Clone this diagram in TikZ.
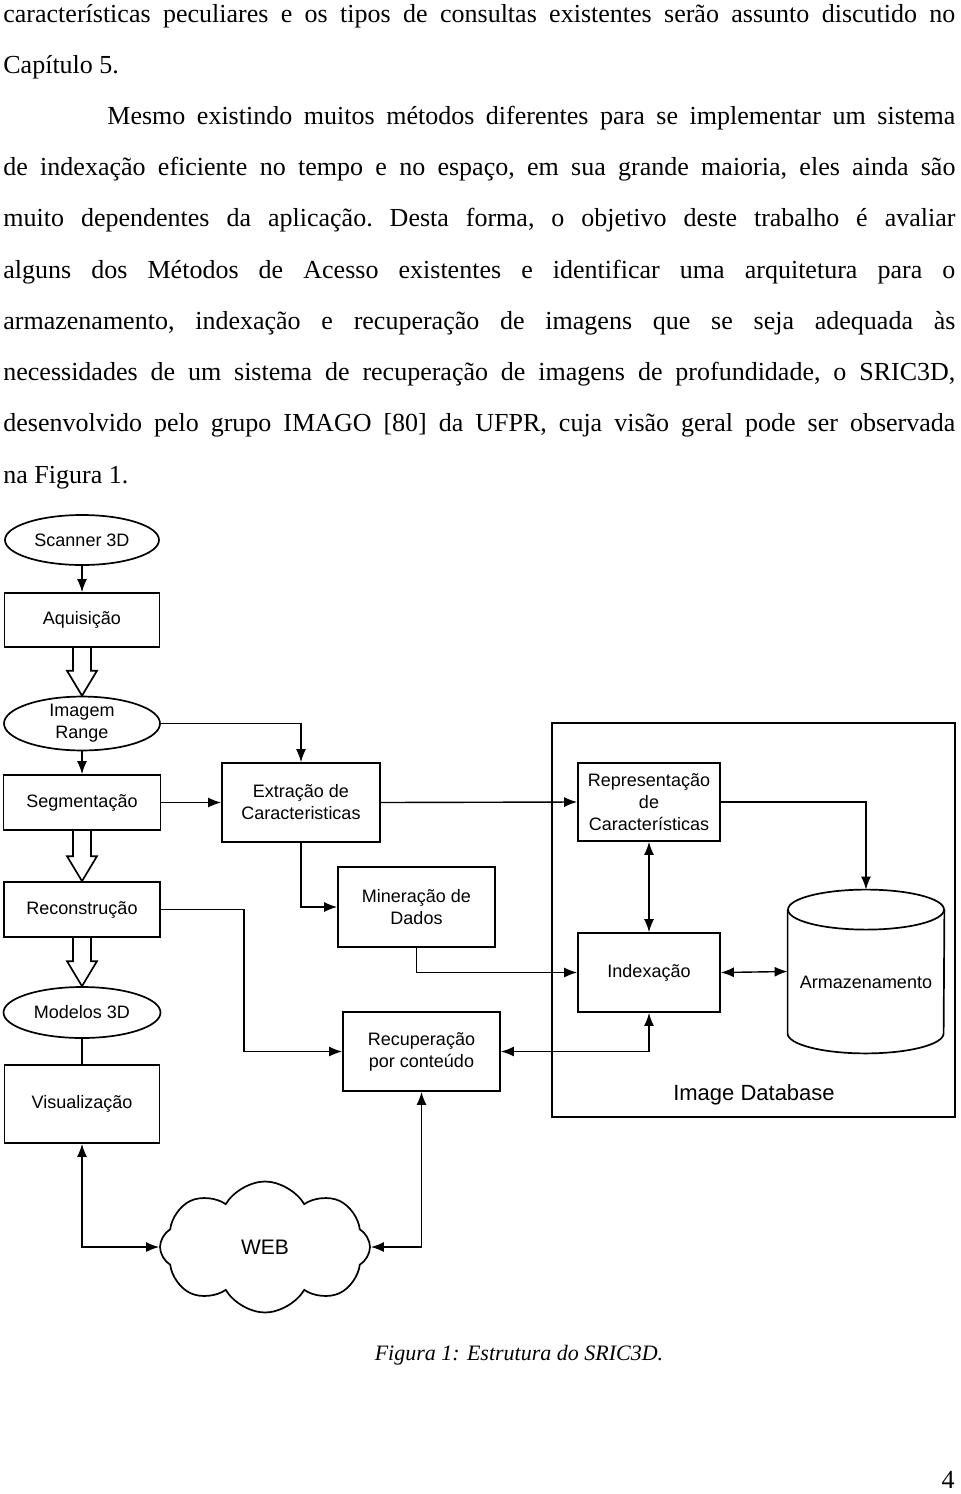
\documentclass[tikz,border=0pt]{standalone}
\usepackage{fontspec}
\setmainfont{Liberation Serif}
\newfontfamily\diagfont{Liberation Sans}
\usetikzlibrary{arrows.meta,shapes.geometric,shapes.symbols,calc}
\newcommand\jline[2]{\hbox to #1{\frenchspacing\spaceskip=0.25em plus 1fil minus 0.1em\relax #2}}
\begin{document}
\begin{tikzpicture}[x=0.5pt,y=-0.5pt,
  body/.style={anchor=base west, inner sep=0pt, font=\fontsize{13}{15}\selectfont},
  box/.style={draw, line width=0.85pt, rectangle, inner sep=1pt, align=center, font=\diagfont\fontsize{9}{11}\selectfont},
  oval/.style={draw, line width=0.85pt, ellipse, inner sep=0pt, align=center, font=\diagfont\fontsize{9}{11}\selectfont},
  conn/.style={line width=0.7pt, -{Latex[length=6.5pt,width=5pt]}},
  biconn/.style={line width=0.7pt, {Latex[length=6.5pt,width=5pt]}-{Latex[length=6.5pt,width=5pt]}},
  wire/.style={line width=0.7pt},
  hollow/.style={draw, line width=0.85pt, line join=miter},
  lbl/.style={inner sep=0pt, font=\diagfont\fontsize{9}{11}\selectfont},
]
\useasboundingbox[fill=white] (0,0) rectangle (960,1494);

% body text
\node[body] (t1) at (3,22) {\jline{476pt}{características peculiares e os tipos de consultas existentes serão assunto discutido no}};
\node[body] (t2) at (3,73) {Capítulo 5.};
\node[body] (t3) at (107,124) {\jline{424pt}{Mesmo existindo muitos métodos diferentes para se implementar um sistema}};
\node[body] (t4) at (3,175.5) {\jline{476pt}{de indexação eficiente no tempo e no espaço, em sua grande maioria, eles ainda são}};
\node[body] (t5) at (3,226.5) {\jline{476pt}{muito dependentes da aplicação. Desta forma, o objetivo deste trabalho é avaliar}};
\node[body] (t6) at (3,278) {\jline{476pt}{alguns dos Métodos de Acesso existentes e identificar uma arquitetura para o}};
\node[body] (t7) at (3,329) {\jline{476pt}{armazenamento, indexação e recuperação de imagens que se seja adequada às}};
\node[body] (t8) at (3,380) {\jline{476pt}{necessidades de um sistema de recuperação de imagens de profundidade, o SRIC3D,}};
\node[body] (t9) at (3,431) {\jline{476pt}{desenvolvido pelo grupo IMAGO [80] da UFPR, cuja visão geral pode ser observada}};
\node[body] (t10) at (3,483) {na Figura 1.};

% image database frame
\node[draw, line width=0.85pt, minimum width=201.5pt, minimum height=197pt, inner sep=0pt] (db) at (753.5,920) {};
\node[inner sep=0pt, font=\diagfont\fontsize{11}{13}\selectfont] (dbl) at (754,1095) {Image Database};

% nodes
\node[oval, minimum width=77pt, minimum height=25pt] (scan) at (82,540) {Scanner 3D};
\node[box, minimum width=77.5pt, minimum height=27pt] (aq) at (82,620) {Aquisição};
\node[oval, minimum width=78pt, minimum height=26.5pt] (img) at (82,723.5) {Imagem\\Range};
\node[box, minimum width=78.5pt, minimum height=27.5pt] (seg) at (82,802.5) {Segmentação};
\node[box, minimum width=79pt, minimum height=39.5pt] (ext) at (301,802.5) {Extração de\\Caracteristicas};
\node[box, minimum width=71pt, minimum height=39pt] (rep) at (649,802) {Representação\\de\\Características};
\node[box, minimum width=78.5pt, minimum height=40pt] (mine) at (416.5,907) {Mineração de\\Dados};
\node[box, minimum width=78pt, minimum height=27.5pt] (rec) at (82,909.5) {Reconstrução};
\node[box, minimum width=71pt, minimum height=39.5pt] (idx) at (649,972.5) {Indexação};
\node[oval, minimum width=78.5pt, minimum height=25.5pt] (mod) at (82,1012.5) {Modelos 3D};
\node[box, minimum width=78.5pt, minimum height=39.5pt] (rcp) at (421.5,1051.5) {Recuperação\\por conteúdo};
\node[box, minimum width=77.5pt, minimum height=39pt] (vis) at (82,1104) {Visualização};
\node[draw, line width=0.85pt, cloud, cloud puffs=8, cloud puff arc=120, shape border rotate=22.5, cloud ignores aspect, minimum width=105pt, minimum height=65.5pt, inner sep=0pt, font=\diagfont\fontsize{10.5}{12}\selectfont] (web) at (265,1247) {WEB};

% cylinder
\node[inner sep=0pt, minimum width=78pt, minimum height=81.5pt] (cyl) at (866,971.5) {};
\draw[line width=0.85pt] ($(cyl.north west)+(0,20)$) -- ($(cyl.south west)+(0,-20)$)
  arc[start angle=180, end angle=360, x radius=39pt, y radius=10pt] -- ($(cyl.north east)+(0,20)$);
\draw[line width=0.85pt] ($(cyl.north)+(0,20)$) ellipse[x radius=39pt, y radius=10pt];
\node[lbl] (arml) at (866,982) {Armazenamento};

% hollow block arrows
\draw[hollow] ($(aq.south)+(-9,0)$) -- ($(img.north)+(-9,-25)$) -- ($(img.north)+(-15,-25)$) -- (img.north) -- ($(img.north)+(15,-25)$) -- ($(img.north)+(9,-25)$) -- ($(aq.south)+(9,0)$);
\draw[hollow] ($(seg.south)+(-9,0)$) -- ($(rec.north)+(-9,-25)$) -- ($(rec.north)+(-15,-25)$) -- (rec.north) -- ($(rec.north)+(15,-25)$) -- ($(rec.north)+(9,-25)$) -- ($(seg.south)+(9,0)$);
\draw[hollow] ($(rec.south)+(-9,0)$) -- ($(mod.north)+(-9,-25)$) -- ($(mod.north)+(-15,-25)$) -- (mod.north) -- ($(mod.north)+(15,-25)$) -- ($(mod.north)+(9,-25)$) -- ($(rec.south)+(9,0)$);

% connectors
\draw[conn] (scan.south) -- (aq.north);
\draw[conn] (img.south) -- (seg.north);
\draw[conn] (img.east) -| (ext.north);
\draw[conn] (seg.east) -- (ext.west);
\draw[conn] (ext.east) -- (rep.west);
\draw[conn] (ext.south) |- (mine.west);
\draw[conn] (mine.south) |- (idx.west);
\draw[conn] (rec.east) -- ++(83,0) |- (rcp.west);
\draw[biconn] (idx.south) |- (rcp.east);
\draw[conn] (rep.east) -| (cyl.north);
\draw[biconn] (rep.south) -- (idx.north);
\draw[biconn] (idx.east) -- (cyl.west);
\draw[wire] (mod.south) -- (vis.north);
\draw[biconn] (vis.south) |- (web.west);
\draw[biconn] (web.east) -| (rcp.south);

% caption and page number
\node[anchor=base, inner sep=0pt, font=\itshape\fontsize{11}{13}\selectfont] (cap) at (519,1360) {Figura 1: Estrutura do SRIC3D.};
\node[anchor=base east, inner sep=0pt, font=\fontsize{13}{15}\selectfont] (pg) at (955,1488) {4};
\end{tikzpicture}
\end{document}
